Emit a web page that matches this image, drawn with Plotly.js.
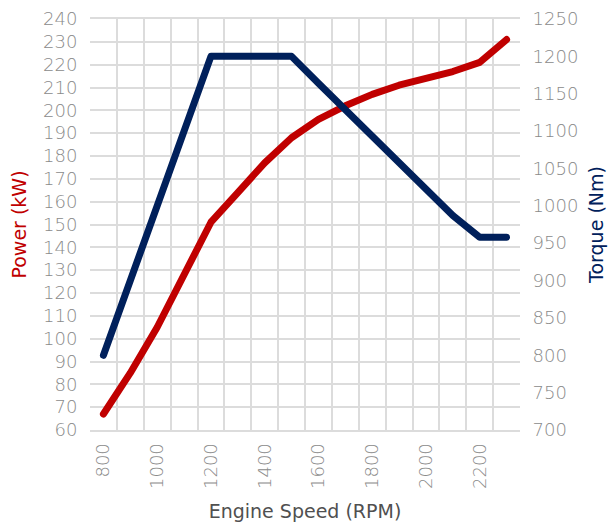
<!DOCTYPE html>
<html>
<head>
<meta charset="utf-8">
<script src="https://cdn.plot.ly/plotly-3.0.1.min.js"></script>
<style>
html,body{margin:0;padding:0;background:#fff;}
#chart{width:609px;height:522px;}
#chart .scatterlayer .js-line{stroke-linecap:round !important;stroke-linejoin:round !important;}
</style>
</head>
<body>
<div id="chart"></div>
<script>
const rpm = [800, 900, 1000, 1100, 1200, 1300, 1400, 1500, 1600, 1700, 1800, 1900, 2000, 2100, 2200, 2300];
const powerKW = [67, 85, 105, 128, 151, 164, 177, 188, 196, 202, 207, 211, 214, 217, 221, 231];
const torqueNm = [800, 900, 1000, 1100, 1200, 1200, 1200, 1200, 1164, 1128, 1093, 1057, 1022, 987, 958, 958];
const xTickVals = [800, 1000, 1200, 1400, 1600, 1800, 2000, 2200];
const xTickText = ['800', '1000', '1200', '1400', '1600', '1800', '2000', '2200'];

const FONT = 'DejaVu Sans, sans-serif';
const tickFont = {family: FONT, size: 18, color: '#8a8a8a', weight: 200};
const gridColor = '#dcdcdc';

const traces = [
  {x: rpm, y: powerKW, type: 'scatter', mode: 'lines', name: 'Power',
   line: {color: '#c00000', width: 7}, xaxis: 'x', yaxis: 'y'},
  {x: rpm, y: torqueNm, type: 'scatter', mode: 'lines', name: 'Torque',
   line: {color: '#00205b', width: 7}, xaxis: 'x', yaxis: 'y2'}
];

const layout = {
  width: 609, height: 522,
  margin: {l: 90, r: 89, t: 19, b: 92},
  paper_bgcolor: '#ffffff', plot_bgcolor: '#ffffff',
  showlegend: false,
  xaxis: {
    range: [750, 2350], tickvals: xTickVals, ticktext: xTickText,
    tickangle: -90, tickfont: tickFont, showgrid: false, zeroline: false,
    ticks: 'outside', ticklen: 4, tickcolor: 'rgba(0,0,0,0)',
    minor: {tick0: 750, dtick: 100, showgrid: true, gridcolor: gridColor, gridwidth: 2, ticks: ''},
    showline: true, linecolor: gridColor, linewidth: 2, mirror: true,
    title: {text: 'Engine Speed (RPM)', font: {family: FONT, size: 19, color: '#505050'}, standoff: 17}
  },
  yaxis: {
    range: [60, 240], dtick: 10, tick0: 60, tickfont: tickFont,
    showgrid: true, gridcolor: gridColor, gridwidth: 2, zeroline: false,
    ticks: 'outside', ticklen: 8, tickcolor: 'rgba(0,0,0,0)',
    title: {text: 'Power (kW)', font: {family: FONT, size: 19, color: '#c00000'}, standoff: 11}
  },
  yaxis2: {
    range: [700, 1250], dtick: 50, tick0: 700, overlaying: 'y', side: 'right',
    tickfont: tickFont, showgrid: false, zeroline: false,
    ticks: 'outside', ticklen: 8, tickcolor: 'rgba(0,0,0,0)',
    title: {text: 'Torque (Nm)', font: {family: FONT, size: 19, color: '#00205b'}, standoff: 12}
  }
};

Plotly.newPlot('chart', traces, layout, {displayModeBar: false, staticPlot: true});
</script>
</body>
</html>
